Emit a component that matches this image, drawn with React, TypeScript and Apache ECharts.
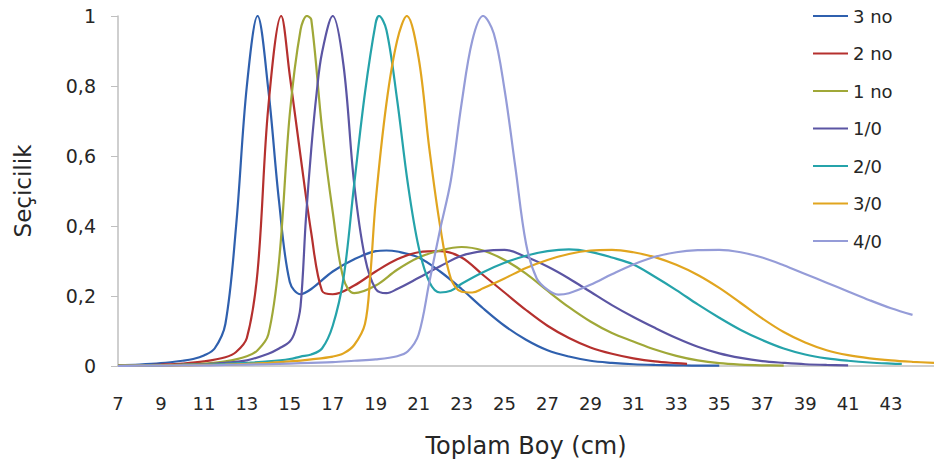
import React, { useEffect, useRef } from "react";
import * as echarts from "echarts";

const seriesNames = ["3 no", "2 no", "1 no", "1/0", "2/0", "3/0", "4/0"];
const seriesColors = ["#2F60AE", "#B5302E", "#A0A838", "#5B55A3", "#25A3AA", "#E1A51F", "#959CD8"];

const no3: [number, number][] = [
  [7, 0.002], [8, 0.004], [9, 0.008], [10, 0.015], [10.5, 0.02], [11, 0.03], [11.5, 0.05],
  [12, 0.12], [12.5, 0.4], [13, 0.8], [13.5, 1.0], [14, 0.79], [14.5, 0.47], [15, 0.24],
  [15.5, 0.205], [16, 0.22], [17, 0.27], [18, 0.305], [19, 0.328], [19.5, 0.33], [20, 0.327],
  [21, 0.31], [22, 0.27], [23, 0.22], [24, 0.165], [25, 0.115], [26, 0.075], [27, 0.045],
  [28, 0.027], [29, 0.015], [30, 0.009], [31, 0.005], [32, 0.003], [33, 0.002], [34, 0.001], [35, 0.001],
];

const no2: [number, number][] = [
  [7, 0.001], [8, 0.002], [9, 0.004], [10, 0.007], [11, 0.013], [12, 0.025], [12.5, 0.04],
  [13, 0.08], [13.5, 0.27], [14, 0.74], [14.6, 1.0], [15, 0.83], [15.5, 0.6], [16, 0.38],
  [16.5, 0.215], [17, 0.205], [18, 0.23], [19, 0.27], [20, 0.305], [21, 0.325], [22, 0.328],
  [23, 0.31], [24, 0.26], [25, 0.21], [26, 0.16], [27, 0.115], [28, 0.08], [29, 0.053],
  [30, 0.035], [31, 0.022], [32, 0.013], [33, 0.008], [33.5, 0.006],
];

const no1: [number, number][] = [
  [7, 0.001], [8, 0.001], [9, 0.002], [10, 0.004], [11, 0.007], [12, 0.013], [13, 0.028],
  [13.5, 0.045], [14, 0.09], [14.5, 0.3], [15, 0.72], [15.5, 0.96], [15.8, 1.0], [16, 0.99],
  [16.5, 0.68], [17, 0.44], [17.5, 0.25], [18, 0.208], [19, 0.23], [20, 0.275], [21, 0.31],
  [22, 0.33], [23, 0.34], [24, 0.33], [25, 0.303], [26, 0.264], [27, 0.215], [28, 0.168],
  [29, 0.127], [30, 0.094], [31, 0.07], [32, 0.047], [33, 0.029], [34, 0.016], [35, 0.008],
  [36, 0.004], [37, 0.002], [38, 0.001],
];

const s10: [number, number][] = [
  [7, 0.001], [8, 0.001], [9, 0.002], [10, 0.003], [11, 0.005], [12, 0.009], [13, 0.016],
  [14, 0.035], [14.5, 0.05], [15, 0.07], [15.25, 0.1], [15.5, 0.17], [15.75, 0.42], [16, 0.62],
  [16.25, 0.78], [16.5, 0.895], [17, 1.0], [17.5, 0.86], [18, 0.52], [18.5, 0.31], [19, 0.22],
  [19.5, 0.208], [20, 0.22], [21, 0.252], [22, 0.285], [23, 0.315], [24, 0.328], [25, 0.332],
  [26, 0.312], [27, 0.284], [28, 0.25], [29, 0.212], [30, 0.174], [31, 0.14], [32, 0.109],
  [33, 0.08], [34, 0.055], [35, 0.036], [36, 0.023], [37, 0.014], [38, 0.009], [39, 0.005],
  [40, 0.003], [41, 0.002],
];

const s20: [number, number][] = [
  [7, 0.001], [8, 0.001], [9, 0.002], [10, 0.003], [11, 0.004], [12, 0.006], [13, 0.009],
  [14, 0.013], [15, 0.02], [15.5, 0.027], [16, 0.033], [16.5, 0.05], [17, 0.115], [17.5, 0.25],
  [18, 0.52], [18.5, 0.78], [19, 0.98], [19.15, 1.0], [19.5, 0.96], [20, 0.76], [20.5, 0.52],
  [21, 0.34], [21.5, 0.24], [22, 0.21], [22.5, 0.215], [23, 0.235], [24, 0.268], [25, 0.295],
  [26, 0.315], [27, 0.328], [28, 0.333], [29, 0.326], [30, 0.31], [31, 0.29], [32, 0.255],
  [33, 0.217], [34, 0.176], [35, 0.138], [36, 0.103], [37, 0.074], [38, 0.05], [39, 0.033],
  [40, 0.022], [41, 0.015], [42, 0.01], [43, 0.007], [43.5, 0.006],
];

const s30: [number, number][] = [
  [7, 0.001], [8, 0.001], [9, 0.002], [10, 0.002], [11, 0.003], [12, 0.004], [13, 0.006],
  [14, 0.009], [15, 0.013], [16, 0.019], [17, 0.027], [17.5, 0.036], [18, 0.06], [18.5, 0.12],
  [18.75, 0.26], [19, 0.47], [19.5, 0.75], [20, 0.93], [20.45, 1.0], [21, 0.88], [21.5, 0.62],
  [22, 0.4], [22.5, 0.25], [23, 0.212], [23.5, 0.21], [24, 0.222], [25, 0.25], [26, 0.28],
  [27, 0.303], [28, 0.32], [29, 0.33], [30, 0.332], [31, 0.325], [32, 0.311], [33, 0.289],
  [34, 0.26], [35, 0.223], [36, 0.18], [37, 0.136], [38, 0.097], [39, 0.067], [40, 0.045],
  [41, 0.031], [42, 0.022], [43, 0.016], [44, 0.012], [45, 0.009],
];

const s40: [number, number][] = [
  [7, 0.0], [8, 0.001], [9, 0.001], [10, 0.002], [11, 0.002], [12, 0.003], [13, 0.004],
  [14, 0.005], [15, 0.007], [16, 0.009], [17, 0.011], [18, 0.015], [19, 0.019], [20, 0.028],
  [20.5, 0.042], [21, 0.09], [21.5, 0.24], [22, 0.39], [22.5, 0.53], [23, 0.75], [23.5, 0.93],
  [24, 1.0], [24.5, 0.95], [25, 0.79], [25.5, 0.57], [26, 0.35], [26.5, 0.25], [27, 0.218],
  [27.5, 0.204], [28, 0.208], [29, 0.232], [30, 0.262], [31, 0.29], [32, 0.312], [33, 0.325],
  [34, 0.331], [35, 0.332], [36, 0.325], [37, 0.31], [38, 0.288], [39, 0.263], [40, 0.238],
  [41, 0.213], [42, 0.188], [43, 0.165], [44, 0.146],
];

const seriesData = [no3, no2, no1, s10, s20, s30, s40];

const FONT = "'DejaVu Sans', sans-serif";

export default function App() {
  const ref = useRef<HTMLDivElement>(null);
  useEffect(() => {
    if (!ref.current) return;
    const chart = echarts.init(ref.current, undefined, { renderer: "svg" });
    chart.setOption({
      animation: false,
      backgroundColor: "#ffffff",
      textStyle: { fontFamily: FONT },
      grid: { left: 118, right: 0, top: 16, bottom: 100, containLabel: false },
      legend: {
        orient: "vertical",
        left: 813,
        top: 7,
        padding: 0,
        itemWidth: 35,
        itemHeight: 14,
        itemGap: 19.5,
        icon: "path://M0,6 L35,6 L35,8 L0,8 Z",
        textStyle: { fontFamily: FONT, fontSize: 18, color: "#262626" },
        data: seriesNames,
      },
      xAxis: {
        type: "value",
        min: 7,
        max: 45,
        interval: 2,
        name: "Toplam Boy (cm)",
        nameLocation: "middle",
        nameGap: 68,
        nameTextStyle: { fontFamily: FONT, fontSize: 24, color: "#262626" },
        axisLine: { show: true, lineStyle: { color: "#BFBFBF", width: 1.5 } },
        axisTick: { show: false },
        splitLine: { show: false },
        axisLabel: {
          showMaxLabel: false,
          margin: 28,
          fontFamily: FONT,
          fontSize: 18,
          color: "#262626",
        },
      },
      yAxis: {
        type: "value",
        min: 0,
        max: 1,
        interval: 0.2,
        name: "Seçicilik",
        nameLocation: "middle",
        nameGap: 84,
        nameRotate: 90,
        nameTextStyle: { fontFamily: FONT, fontSize: 23, color: "#262626" },
        axisLine: { show: true, lineStyle: { color: "#BFBFBF", width: 1.5 } },
        axisTick: { show: true, length: 7, inside: false, lineStyle: { color: "#BFBFBF" } },
        splitLine: { show: false },
        axisLabel: {
          margin: 22,
          fontFamily: FONT,
          fontSize: 19,
          color: "#262626",
          formatter: (v: number) => String(Math.round(v * 10) / 10).replace(".", ","),
        },
      },
      series: seriesNames.map((name, i) => ({
        name,
        type: "line",
        data: seriesData[i],
        smooth: 0.35,
        symbol: "none",
        lineStyle: { width: 2.2, color: seriesColors[i] },
        itemStyle: { color: seriesColors[i] },
        z: 2 + i,
      })),
    });
    return () => chart.dispose();
  }, []);
  return (
    <div
      ref={ref}
      style={{ position: "fixed", left: 0, top: 0, width: 934, height: 466, background: "#fff" }}
    />
  );
}
